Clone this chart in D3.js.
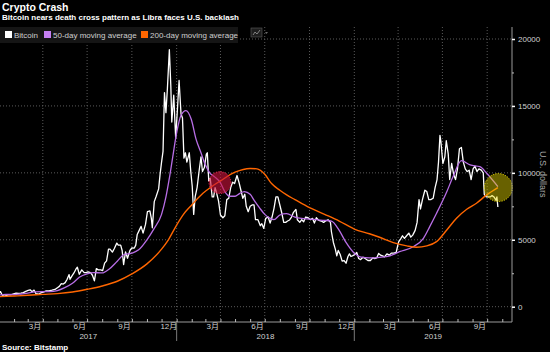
<!DOCTYPE html>
<html>
<head>
<meta charset="utf-8">
<script src="https://cdn.jsdelivr.net/npm/d3@7"></script>
<style>
  body { margin: 0; background: #000; }
  svg { display: block; }
  text { font-family: "Liberation Sans", "Noto Sans CJK SC", sans-serif; }
</style>
</head>
<body>
<svg id="chart" width="550" height="352"></svg>
<script>
// Bitcoin price (Bitstamp), USD
const btcDates = [
  "2017-01-01","2017-01-04","2017-01-07","2017-01-11","2017-01-15","2017-01-20","2017-01-25","2017-01-31",
  "2017-02-05","2017-02-10","2017-02-15","2017-02-20","2017-02-25","2017-03-02","2017-03-06","2017-03-10",
  "2017-03-14","2017-03-18","2017-03-24","2017-03-28","2017-04-02","2017-04-08","2017-04-14","2017-04-20",
  "2017-04-26","2017-05-01","2017-05-05","2017-05-09","2017-05-13","2017-05-17","2017-05-21","2017-05-25",
  "2017-05-27","2017-05-31","2017-06-04","2017-06-08","2017-06-11","2017-06-15","2017-06-20","2017-06-25",
  "2017-06-29","2017-07-03","2017-07-08","2017-07-12","2017-07-16","2017-07-20","2017-07-24","2017-07-29",
  "2017-08-02","2017-08-06","2017-08-10","2017-08-14","2017-08-17","2017-08-22","2017-08-26","2017-08-31",
  "2017-09-03","2017-09-08","2017-09-11","2017-09-14","2017-09-18","2017-09-22","2017-09-27","2017-10-01",
  "2017-10-06","2017-10-09","2017-10-12","2017-10-16","2017-10-20","2017-10-24","2017-10-29","2017-11-02",
  "2017-11-07","2017-11-10","2017-11-12","2017-11-16","2017-11-20","2017-11-25","2017-11-28","2017-12-01",
  "2017-12-04","2017-12-07","2017-12-10","2017-12-13","2017-12-17","2017-12-20","2017-12-22","2017-12-26",
  "2017-12-30",
  "2018-01-03","2018-01-06","2018-01-10","2018-01-13","2018-01-16","2018-01-19","2018-01-22","2018-01-27",
  "2018-01-30","2018-02-02","2018-02-05","2018-02-08","2018-02-12","2018-02-16","2018-02-20","2018-02-23",
  "2018-02-27","2018-03-03","2018-03-05","2018-03-08","2018-03-11","2018-03-15","2018-03-18","2018-03-21",
  "2018-03-24","2018-03-28","2018-04-01","2018-04-06","2018-04-10","2018-04-14","2018-04-18","2018-04-22",
  "2018-04-26","2018-04-30","2018-05-05","2018-05-09","2018-05-13","2018-05-17","2018-05-21","2018-05-24",
  "2018-05-28","2018-06-01","2018-06-05","2018-06-09","2018-06-12","2018-06-17","2018-06-22","2018-06-25",
  "2018-06-29","2018-07-03","2018-07-08","2018-07-12","2018-07-16","2018-07-20","2018-07-24","2018-07-28",
  "2018-08-01","2018-08-05","2018-08-09","2018-08-13","2018-08-17","2018-08-21","2018-08-25","2018-08-29",
  "2018-09-03","2018-09-06","2018-09-11","2018-09-15","2018-09-19","2018-09-23","2018-09-28","2018-10-03",
  "2018-10-07","2018-10-11","2018-10-15","2018-10-20","2018-10-25","2018-10-30","2018-11-03","2018-11-08",
  "2018-11-13","2018-11-15","2018-11-19","2018-11-23","2018-11-26","2018-11-29","2018-12-03","2018-12-07",
  "2018-12-11","2018-12-15","2018-12-19","2018-12-22","2018-12-25","2018-12-29",
  "2019-01-02","2019-01-06","2019-01-10","2019-01-14","2019-01-19","2019-01-24","2019-01-29","2019-02-03",
  "2019-02-08","2019-02-12","2019-02-16","2019-02-20","2019-02-24","2019-02-28","2019-03-04","2019-03-09",
  "2019-03-14","2019-03-18","2019-03-23","2019-03-28","2019-04-02","2019-04-06","2019-04-10","2019-04-14",
  "2019-04-18","2019-04-23","2019-04-27","2019-05-01","2019-05-06","2019-05-10","2019-05-14","2019-05-17",
  "2019-05-21","2019-05-26","2019-05-30","2019-06-03","2019-06-07","2019-06-12","2019-06-16","2019-06-20",
  "2019-06-23","2019-06-26","2019-06-28","2019-07-02","2019-07-06","2019-07-09","2019-07-13","2019-07-16",
  "2019-07-20","2019-07-24","2019-07-28","2019-08-01","2019-08-05","2019-08-09","2019-08-13","2019-08-17",
  "2019-08-21","2019-08-25","2019-08-29","2019-09-02","2019-09-06","2019-09-10","2019-09-14","2019-09-19",
  "2019-09-23","2019-09-25","2019-09-29","2019-10-03","2019-10-07","2019-10-11","2019-10-15","2019-10-19",
  "2019-10-21","2019-10-23"
];
const btcPrices = [
  1000,1130,900,780,820,890,890,965,
  1020,990,1010,1050,1150,1220,1260,1120,
  1240,970,930,1040,1090,1180,1180,1230,
  1290,1420,1520,1720,1690,1800,2050,2400,
  2050,2300,2520,2800,2950,2420,2750,2550,
  2550,2600,2550,2350,1930,2850,2750,2750,
  2700,3250,3420,4300,4300,4080,4350,4750,
  4600,4600,4200,3150,4100,3620,4200,4390,
  4380,4600,5400,5700,6000,5500,6150,7100,
  7150,6600,5900,7850,8250,8800,9900,10800,
  11600,16000,14500,16300,19200,16500,13800,15800,
  12600,
  15000,16900,14400,14100,11100,11500,10800,11500,
  10100,9000,6900,8200,8900,10100,11200,10100,
  10400,11400,11500,9400,9600,8200,8200,8900,
  8500,7900,6850,6650,6800,8000,8100,8900,
  9300,9200,9800,9300,8700,8100,8400,7500,
  7100,7500,7600,7600,6500,6500,6050,6200,
  5850,6600,6700,6250,6700,7350,8200,8200,
  7600,7000,6300,6300,6400,6480,6700,7050,
  7270,6500,6300,6500,6350,6700,6650,6500,
  6600,6250,6650,6450,6400,6300,6400,6500,
  6300,5600,4800,4300,3800,4200,3900,3400,
  3450,3250,3750,3950,3750,3820,
  3900,4050,3600,3520,3700,3580,3450,3450,
  3650,3600,3640,3980,3850,3800,3720,3950,
  3850,4000,4000,4050,4850,5050,5300,5100,
  5280,5500,5200,5350,5700,6300,8000,7300,
  8000,8700,8600,8000,8000,8100,8900,9500,
  10800,12800,12300,10700,11200,12400,11400,9500,
  10700,9900,9500,10300,11800,11900,10800,10300,
  10100,10200,9500,10300,10500,10100,10300,10200,
  10000,8400,8200,8200,8200,8300,8200,7950,
  8200,7450
];

// 50-day moving average
const ma50Dates = [
  "2017-01-01","2017-01-15","2017-02-01","2017-02-15","2017-03-01","2017-03-15","2017-04-01","2017-04-15",
  "2017-05-01","2017-05-15","2017-06-01","2017-06-15","2017-07-01","2017-07-15","2017-08-01","2017-08-15",
  "2017-09-01","2017-09-15","2017-10-01","2017-10-15","2017-11-01","2017-11-15","2017-12-01","2017-12-10",
  "2017-12-17","2017-12-24","2018-01-01","2018-01-10","2018-01-20","2018-01-31","2018-02-10","2018-02-20",
  "2018-03-01","2018-03-10","2018-03-20","2018-04-01","2018-04-10","2018-04-20","2018-05-01","2018-05-10",
  "2018-05-20","2018-06-01","2018-06-10","2018-06-20","2018-07-01","2018-07-10","2018-07-20","2018-08-01",
  "2018-08-15","2018-09-01","2018-09-15","2018-10-01","2018-10-15","2018-11-01","2018-11-15","2018-12-01",
  "2018-12-15","2019-01-01","2019-01-15","2019-02-01","2019-02-22","2019-03-15","2019-04-04","2019-05-02",
  "2019-05-23","2019-06-05","2019-06-19","2019-07-10","2019-07-23","2019-08-09","2019-08-27","2019-09-16",
  "2019-09-30","2019-10-23"
];
const ma50Values = [
  880,920,900,950,1020,1110,1130,1120,
  1200,1400,1750,2200,2450,2550,2520,2800,
  3400,3900,4000,4250,5000,5800,6900,8200,
  9600,11200,13000,14300,14650,14000,12500,11500,
  10600,10000,9700,9250,8600,8250,8250,8450,
  8600,8400,7900,7400,6900,6650,6500,6850,
  6950,6700,6600,6550,6500,6450,6400,5700,
  4800,4000,3700,3650,3690,3800,4110,4480,
  5110,5980,6980,8590,9720,10910,10590,10460,
  9970,8970
];

// 200-day moving average
const ma200Dates = [
  "2017-01-01","2017-02-01","2017-03-01","2017-04-01","2017-05-01","2017-06-01","2017-07-01","2017-08-01",
  "2017-09-01","2017-10-01","2017-11-01","2017-12-01","2017-12-15","2018-01-01","2018-01-15","2018-02-01",
  "2018-02-24","2018-03-15","2018-04-01","2018-05-01","2018-06-01","2018-06-15","2018-07-01","2018-07-15",
  "2018-08-01","2018-08-15","2018-09-01","2018-10-01","2018-11-01","2018-12-01","2019-01-01","2019-02-01",
  "2019-02-22","2019-03-22","2019-04-19","2019-05-09","2019-05-30","2019-06-19","2019-07-10","2019-07-30",
  "2019-08-20","2019-09-09","2019-09-30","2019-10-23"
];
const ma200Values = [
  750,800,850,920,980,1100,1300,1550,
  1900,2450,3200,4300,5000,6100,6900,7600,
  8470,9000,9400,10050,10330,10300,9900,9200,
  8700,8350,8000,7400,6900,6400,5800,5450,
  5190,4790,4540,4440,4540,4860,5730,6610,
  7280,7730,8350,8900
];

// highlighted crossings of the two averages
const crossDates = ["2018-03-31", "2019-10-24"];
const crossValues = [9270, 8900];

const yTicks = [0, 5000, 10000, 15000, 20000];
const yMinorTicks = [2500, 7500, 12500, 17500];
const monthLabelDates = ["2017-03-15","2017-06-15","2017-09-15","2017-12-15","2018-03-15","2018-06-15",
  "2018-09-15","2018-12-15","2019-03-15","2019-06-15","2019-09-15"];
const gridDates = ["2017-04-01","2017-07-01","2017-10-01","2018-01-01","2018-04-01","2018-07-01",
  "2018-10-01","2019-01-01","2019-04-01","2019-07-01","2019-10-01"];
const years = ["2017", "2018", "2019"];
const legendNames = ["Bitcoin", "50-day moving average", "200-day moving average"];
const legendColors = ["#ffffff", "#c57ff2", "#ff6600"];

const parse = d3.timeParse("%Y-%m-%d");
const btc = btcDates.map((d, i) => ({ date: parse(d), value: btcPrices[i] }));
const ma50 = ma50Dates.map((d, i) => ({ date: parse(d), value: ma50Values[i] }));
const ma200 = ma200Dates.map((d, i) => ({ date: parse(d), value: ma200Values[i] }));
const crosses = crossDates.map((d, i) => ({ date: parse(d), value: crossValues[i] }));

const svg = d3.select('#chart');
const plotRight = 512;
const plotTop = 27;
const axisY = 322;

const x = d3.scaleTime()
  .domain([parse("2017-01-01"), parse("2019-11-21")])
  .range([-1, plotRight]);
const y = d3.scaleLinear()
  .domain([0, 20000])
  .range([306.7, 39]);

// background
svg.append('rect').attr('width', 550).attr('height', 352).attr('fill', '#000');

// gridlines
svg.append('g')
  .selectAll('line')
  .data(yTicks)
  .enter()
  .append('line')
  .attr('x1', 0).attr('x2', plotRight)
  .attr('y1', d => y(d)).attr('y2', d => y(d))
  .attr('stroke', '#5a5a5a').attr('stroke-dasharray', '1,2');

svg.append('g')
  .selectAll('line')
  .data(gridDates.map(parse))
  .enter()
  .append('line')
  .attr('x1', d => x(d)).attr('x2', d => x(d))
  .attr('y1', plotTop).attr('y2', axisY)
  .attr('stroke', '#5a5a5a').attr('stroke-dasharray', '1,2');

// title and legend
svg.append('text').attr('x', 2).attr('y', 11)
  .style('font-size', '10.5px').style('font-weight', 'bold').style('fill', '#fff')
  .text('Crypto Crash');
svg.append('text').attr('x', 2).attr('y', 20)
  .style('font-size', '8px').style('font-weight', 'bold').style('fill', '#fff')
  .text('Bitcoin nears death cross pattern as Libra faces U.S. backlash');

svg.append('rect').attr('x', 0).attr('y', 27).attr('width', 238).attr('height', 16).attr('fill', '#151515');
const legendX = [5, 44, 141];
const legend = svg.append('g');
legendNames.forEach((name, i) => {
  legend.append('rect')
    .attr('x', legendX[i]).attr('y', 31).attr('width', 7).attr('height', 7)
    .attr('fill', legendColors[i]);
  legend.append('text')
    .attr('x', legendX[i] + 9).attr('y', 37.5)
    .style('font-size', '8px').style('fill', '#cfcfcf')
    .text(name);
});

// little chart-type icon
const icon = svg.append('g').attr('transform', 'translate(251,28)');
icon.append('rect').attr('width', 11).attr('height', 9).attr('fill', '#1e1e1e').attr('stroke', '#5c5c5c').attr('stroke-width', 0.6);
icon.append('polyline').attr('points', '2,7 4,4 6,6 9,2').attr('fill', 'none').attr('stroke', '#9a9a9a').attr('stroke-width', 0.8);
icon.append('path').attr('d', 'M14,4 L17,4 L15.5,6 Z').attr('fill', '#6a6a6a');

// series
const line = d3.line().x(d => x(d.date)).y(d => y(d.value));
const smooth = d3.line().x(d => x(d.date)).y(d => y(d.value)).curve(d3.curveMonotoneX);

svg.append('path').datum(btc)
  .attr('d', line).attr('fill', 'none')
  .attr('stroke', legendColors[0]).attr('stroke-width', 1.3).attr('stroke-linejoin', 'round');
svg.append('path').datum(ma50)
  .attr('d', smooth).attr('fill', 'none')
  .attr('stroke', '#b86ee6').attr('stroke-width', 1.3);
svg.append('path').datum(ma200)
  .attr('d', smooth).attr('fill', 'none')
  .attr('stroke', legendColors[2]).attr('stroke-width', 1.4);

// crossing markers
const crossStyle = [
  { r: 11, fill: 'rgba(205, 20, 60, 0.62)', stroke: '#e8284f' },
  { r: 14, fill: 'rgba(230, 215, 0, 0.45)', stroke: '#f5e400' }
];
svg.append('g')
  .selectAll('circle')
  .data(crosses)
  .enter()
  .append('circle')
  .attr('cx', d => x(d.date))
  .attr('cy', d => y(d.value))
  .attr('r', (d, i) => crossStyle[i].r)
  .attr('fill', (d, i) => crossStyle[i].fill)
  .attr('stroke', (d, i) => crossStyle[i].stroke)
  .attr('stroke-width', 1)
  .attr('stroke-dasharray', '1,1.5');

// right axis
svg.append('line')
  .attr('x1', plotRight).attr('x2', plotRight)
  .attr('y1', plotTop).attr('y2', axisY)
  .attr('stroke', '#9a9a9a');

const yAxis = svg.append('g')
  .attr('transform', `translate(${plotRight}, 0)`)
  .call(d3.axisRight(y).tickValues(yTicks).tickSize(3).tickPadding(3).tickFormat(d3.format('d')));
yAxis.select('.domain').remove();
yAxis.selectAll('line').attr('stroke', '#fff').attr('stroke-width', 1.5);
yAxis.selectAll('text').style('font-size', '8px').style('fill', '#d0d0d0').attr('font-family', null);

const yMinor = svg.append('g')
  .attr('transform', `translate(${plotRight}, 0)`)
  .call(d3.axisRight(y).tickValues(yMinorTicks).tickSize(2).tickFormat(''));
yMinor.select('.domain').remove();
yMinor.selectAll('line').attr('stroke', '#bdbdbd');

svg.append('text')
  .attr('transform', `translate(540, ${(y(10000) + y(5000)) / 2 - 32}) rotate(90)`)
  .style('text-anchor', 'middle')
  .style('font-size', '9px')
  .style('fill', '#a8a8a8')
  .text('U.S. dollars');

// bottom axis
svg.append('line')
  .attr('x1', 0).attr('x2', plotRight)
  .attr('y1', axisY).attr('y2', axisY)
  .attr('stroke', '#9a9a9a').attr('stroke-width', 1.2);

const xTicks = svg.append('g')
  .attr('transform', `translate(0, ${axisY})`)
  .call(d3.axisBottom(x).ticks(d3.timeMonth.every(1)).tickSize(-3).tickFormat(''));
xTicks.select('.domain').remove();
xTicks.selectAll('line').attr('stroke', '#bbbbbb');

const xLabels = svg.append('g')
  .attr('transform', `translate(0, ${axisY})`)
  .call(d3.axisBottom(x).tickValues(monthLabelDates.map(parse)).tickSize(0).tickPadding(1)
    .tickFormat(d => (d.getMonth() + 1) + '月'));
xLabels.select('.domain').remove();
xLabels.selectAll('text').style('font-size', '8px').style('fill', '#d0d0d0').attr('font-family', null);

// year separators and year labels
const yearStarts = years.map(yr => parse(yr + '-01-01'));
svg.append('g')
  .selectAll('line')
  .data(yearStarts.slice(1))
  .enter()
  .append('line')
  .attr('x1', d => x(d)).attr('x2', d => x(d))
  .attr('y1', axisY).attr('y2', 341)
  .attr('stroke', '#7a7a7a');

svg.append('g')
  .selectAll('text')
  .data(years)
  .enter()
  .append('text')
  .attr('x', (d, i) => {
    const a = Math.max(0, x(yearStarts[i]));
    const b = i < years.length - 1 ? x(yearStarts[i + 1]) : plotRight;
    return (a + b) / 2;
  })
  .attr('y', 338.5)
  .style('text-anchor', 'middle')
  .style('font-size', '8px')
  .style('fill', '#d0d0d0')
  .text(d => d);

svg.append('text').attr('x', 2).attr('y', 350)
  .style('font-size', '8px').style('font-weight', 'bold').style('fill', '#fff')
  .text('Source: Bitstamp');
</script>
</body>
</html>
